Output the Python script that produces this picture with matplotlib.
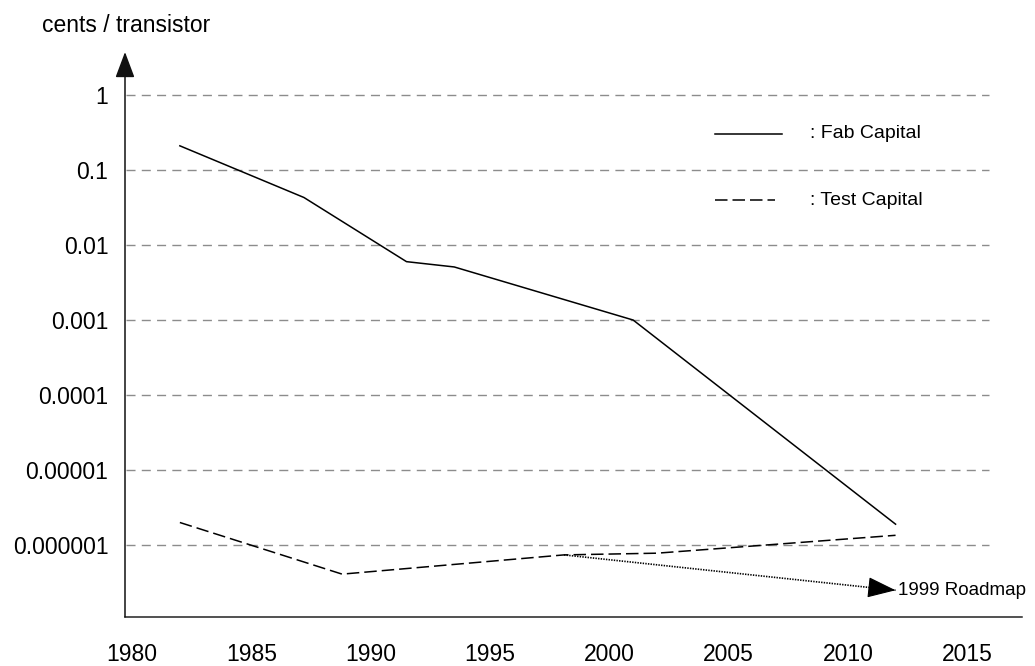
import numpy as np
import matplotlib
matplotlib.use("Agg")
import matplotlib.pyplot as plt

plt.rcParams['font.family'] = ['Liberation Sans', 'DejaVu Sans']
plt.rcParams['lines.scale_dashes'] = False

# cost per transistor, cents
fab_years = [1982, 1987.2, 1991.5, 1993.5, 2001, 2012]
fab_cost = [0.21, 0.043, 0.006, 0.0051, 0.001, 1.9e-6]

test_years = [1982, 1988.8, 1998.1, 2002, 2012]
test_cost = [2e-6, 4.1e-7, 7.4e-7, 7.8e-7, 1.35e-6]

road_years = [1998.1, 2012]
road_cost = [7.4e-7, 2.5e-7]

year_ticks = [1980, 1985, 1990, 1995, 2000, 2005, 2010, 2015]
cost_ticks = [1, 0.1, 0.01, 0.001, 0.0001, 0.00001, 0.000001]
cost_labels = ['1', '0.1', '0.01', '0.001', '0.0001', '0.00001', '0.000001']

fig = plt.figure(figsize=(10.35, 6.66), dpi=100)
W, H = 1035, 666
ax = fig.add_axes([125 / W, 49 / H, (1022 - 125) / W, (617 - 52) / H])

ax.set_yscale('log')
ax.set_xlim(1979.7, 2017.3)
ax.set_ylim(1.1e-7, 3.74)

# dashed horizontal grid
for c in cost_ticks:
    ax.plot([1979.75, 2015.9], [c, c], color='#8c8c8c', lw=1.0,
            ls=(0, (6.5, 4.5)), zorder=1)

ax.plot(fab_years, fab_cost, color='black', lw=1.1, zorder=3)
ax.plot(test_years, test_cost, color='black', lw=1.1, ls=(0, (9, 3.6)), zorder=3)

# roadmap projection
ax.plot(road_years, road_cost, color='black', lw=1.2, ls=(0, (1, 0.9)), zorder=3)
lx = np.log10(road_cost)
t = 0.94
head_start = (road_years[0] + t * (road_years[1] - road_years[0]),
              10 ** (lx[0] + t * (lx[1] - lx[0])))
ax.annotate('', xy=(road_years[1], road_cost[1]), xytext=head_start,
            arrowprops=dict(arrowstyle='-|>,head_length=0.9,head_width=0.33',
                            color='black', lw=0.8, mutation_scale=20,
                            shrinkA=0, shrinkB=0), zorder=4)
ax.annotate('1999 Roadmap', xy=(road_years[1], road_cost[1]), xytext=(2, 0),
            textcoords='offset points', va='center', ha='left', fontsize=13.5)

ax.set_xticks(year_ticks)
ax.set_xticklabels([str(y) for y in year_ticks], fontsize=16.5)
ax.set_yticks(cost_ticks)
ax.set_yticklabels(cost_labels, fontsize=16.5)
ax.yaxis.set_minor_locator(matplotlib.ticker.NullLocator())
ax.tick_params(axis='x', length=0, pad=19)
ax.tick_params(axis='y', length=0, pad=12)

for s in ['top', 'right', 'left']:
    ax.spines[s].set_visible(False)
ax.spines['bottom'].set_linewidth(1.1)
ax.spines['bottom'].set_color('#222222')

# y axis with arrow head
ax.annotate('', xy=(0, 1), xytext=(0, 0), xycoords='axes fraction',
            arrowprops=dict(arrowstyle='-|>,head_length=0.8,head_width=0.3',
                            color='#111111', lw=1.1, mutation_scale=20,
                            shrinkA=0, shrinkB=0))

fig.text(42 / W, 1 - 25 / H, 'cents / transistor', fontsize=16.5,
         ha='left', va='center')

# legend
ax.plot([0.658, 0.732], [0.855, 0.855], transform=ax.transAxes,
        color='black', lw=1.1)
ax.text(0.764, 0.855, ': Fab Capital', transform=ax.transAxes,
        fontsize=14, va='center', ha='left')
ax.plot([0.658, 0.725], [0.738, 0.738], transform=ax.transAxes,
        color='black', lw=1.1, ls=(0, (9, 3.6)))
ax.text(0.764, 0.738, ': Test Capital', transform=ax.transAxes,
        fontsize=14, va='center', ha='left')

fig.savefig('out.png', dpi=100)
